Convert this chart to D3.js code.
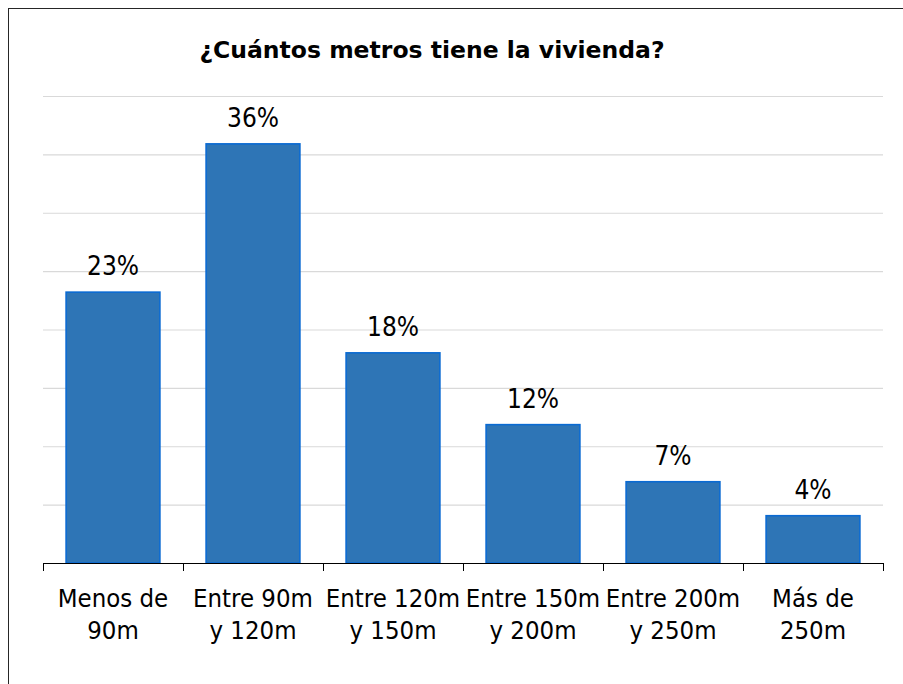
<!DOCTYPE html>
<html>
<head>
<meta charset="utf-8">
<script src="https://cdn.jsdelivr.net/npm/d3@7"></script>
<style>
  body { margin: 0; background: #fff; }
  svg { display: block; }
</style>
</head>
<body>
<div id="chart"></div>
<script>
// data
const categories = ["Menos de 90m", "Entre 90m y 120m", "Entre 120m y 150m", "Entre 150m y 200m", "Entre 200m y 250m", "Más de 250m"];
const labelLines = [["Menos de", "90m"], ["Entre 90m", "y 120m"], ["Entre 120m", "y 150m"], ["Entre 150m", "y 200m"], ["Entre 200m", "y 250m"], ["Más de", "250m"]];
const values = [23.2, 35.9, 18.0, 11.85, 6.96, 4.05];
const yTicks = [0, 5, 10, 15, 20, 25, 30, 35, 40];
const title = "¿Cuántos metros tiene la vivienda?";

(() => {
  const width = 903;
  const height = 684;
  const margin = { top: 96, bottom: 121, left: 43, right: 20 };
  const font = "'DejaVu Sans Condensed', 'DejaVu Sans', sans-serif";

  const svg = d3
    .select("#chart")
    .append("svg")
    .attr("width", width)
    .attr("height", height);

  // outer frame (right and bottom edges fall outside the picture)
  svg
    .append("rect")
    .attr("x", 8.5)
    .attr("y", 8.5)
    .attr("width", width)
    .attr("height", height)
    .attr("fill", "none")
    .attr("stroke", "#262626")
    .attr("stroke-width", 1);

  const x = d3
    .scaleBand()
    .domain(categories)
    .range([margin.left, width - margin.right])
    .paddingInner(0.33)
    .paddingOuter(0.165);

  const y = d3
    .scaleLinear()
    .domain([0, 40])
    .range([height - margin.bottom, margin.top]);

  // gridlines
  svg
    .append("g")
    .attr("transform", `translate(${margin.left}, 0)`)
    .call(
      d3.axisLeft(y)
        .tickValues(yTicks.slice(1))
        .tickSize(-(width - margin.right - margin.left))
        .tickFormat("")
    )
    .call((g) => g.select(".domain").remove())
    .call((g) => g.selectAll(".tick line").attr("stroke", "#d9d9d9").attr("stroke-width", 1.2));

  // bars
  svg
    .append("g")
    .selectAll("rect")
    .data(values)
    .join("rect")
    .attr("x", (d, i) => x(categories[i]))
    .attr("y", (d) => y(d))
    .attr("width", x.bandwidth())
    .attr("height", (d) => y(0) - y(d))
    .attr("fill", "#2e75b6")
    .attr("stroke", "#0a6ad2")
    .attr("stroke-width", 1.6);

  // value labels
  svg
    .append("g")
    .selectAll("text")
    .data(values)
    .join("text")
    .attr("x", (d, i) => x(categories[i]) + x.bandwidth() / 2)
    .attr("y", (d) => y(d) - 17)
    .attr("text-anchor", "middle")
    .attr("font-family", font)
    .attr("font-size", 26)
    .attr("fill", "#000")
    .text((d) => `${Math.round(d)}%`);

  // baseline with ticks between categories
  const edges = d3
    .scaleLinear()
    .domain([0, categories.length])
    .range([margin.left, width - margin.right]);

  svg
    .append("g")
    .attr("transform", `translate(0, ${y(0)})`)
    .call(
      d3.axisBottom(edges)
        .tickValues(d3.range(categories.length + 1))
        .tickSize(8)
        .tickSizeOuter(0)
        .tickFormat("")
    )
    .call((g) => g.select(".domain").attr("stroke", "#000"))
    .call((g) => g.selectAll(".tick line").attr("stroke", "#000"));

  // category labels on two lines
  const labelAxis = svg
    .append("g")
    .attr("transform", `translate(0, ${y(0)})`)
    .call(d3.axisBottom(x).tickSize(0).tickFormat(""));
  labelAxis.select(".domain").remove();
  labelAxis
    .selectAll(".tick")
    .append("text")
    .attr("text-anchor", "middle")
    .attr("font-family", font)
    .attr("font-size", 25.5)
    .attr("fill", "#000")
    .selectAll("tspan")
    .data((d, i) => labelLines[i])
    .join("tspan")
    .attr("x", 0)
    .attr("y", (d, i) => 44 + i * 32)
    .text((d) => d);

  // title
  svg
    .append("text")
    .attr("x", 432)
    .attr("y", 58)
    .attr("text-anchor", "middle")
    .attr("font-family", "'DejaVu Sans', sans-serif")
    .attr("font-weight", "bold")
    .attr("font-size", 23.5)
    .attr("fill", "#000")
    .text(title);
})();
</script>
</body>
</html>
